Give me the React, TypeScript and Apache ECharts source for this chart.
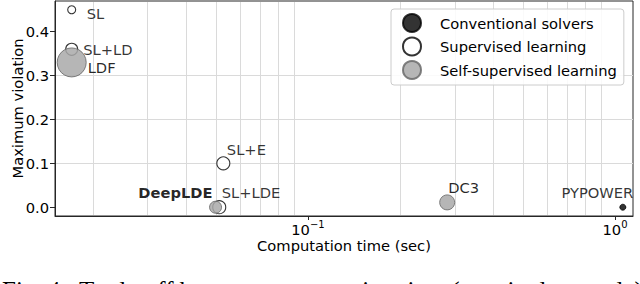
import React, { useEffect, useRef } from 'react';
import * as echarts from 'echarts';

// ---- data ----
const conventionalNames = ['PYPOWER'];
const conventionalTime = [1.06];
const conventionalViolation = [0.0];

const supervisedNames = ['SL', 'SL+LD', 'SL+E', 'SL+LDE'];
const supervisedTime = [0.017, 0.017, 0.053, 0.0514];
const supervisedViolation = [0.45, 0.36, 0.1, 0.0];

const selfNames = ['LDF', 'DeepLDE', 'DC3'];
const selfTime = [0.017, 0.05, 0.284];
const selfViolation = [0.33, 0.0, 0.011];

const yTickValues = [0, 0.1, 0.2, 0.3, 0.4];
const xMajorTickValues = [0.1, 1];
const xMinorGridValues = [
  0.02, 0.03, 0.04, 0.05, 0.06, 0.07, 0.08, 0.09,
  0.2, 0.3, 0.4, 0.5, 0.6, 0.7, 0.8, 0.9,
];

const legendNames = ['Conventional solvers', 'Supervised learning', 'Self-supervised learning'];
const xAxisTitle = 'Computation time (sec)';
const yAxisTitle = 'Maximum violation';
const captionText = 'Fig. 4.\u00a0\u00a0Trade-off between computation time (per single sample)';

// ---- axis ranges & styles ----
const X_MIN = 0.015;
const X_MAX = 1.144;
const Y_MIN = -0.02;
const Y_MAX = 0.47;

const FONT = 'DejaVu Sans';
const FS = 14.7;
const GRID_COLOR = '#dadada';
const SPINE = '#262626';

const markerSize: Record<string, number> = {
  PYPOWER: 6,
  SL: 8,
  'SL+LD': 12,
  'SL+E': 13,
  'SL+LDE': 13,
  LDF: 29,
  DeepLDE: 12,
  DC3: 15,
};

const labelPlacement: Record<string, { dx: number; dy: number; align: string; bold?: boolean }> = {
  PYPOWER: { dx: 10.5, dy: -14.5, align: 'right' },
  SL: { dx: 15, dy: 4, align: 'left' },
  'SL+LD': { dx: 11.5, dy: 0, align: 'left' },
  'SL+E': { dx: 3.5, dy: -14, align: 'left' },
  'SL+LDE': { dx: 2.5, dy: -14.5, align: 'left' },
  LDF: { dx: 16, dy: 5, align: 'left' },
  DeepLDE: { dx: -3, dy: -14.5, align: 'right', bold: true },
  DC3: { dx: 1, dy: -15, align: 'left' },
};

function buildPoints(names: string[], xs: number[], ys: number[]) {
  return names.map((n, i) => {
    const p = labelPlacement[n];
    return {
      name: n,
      value: [xs[i], ys[i]],
      symbolSize: markerSize[n],
      label: {
        show: true,
        position: 'inside',
        align: p.align,
        verticalAlign: 'middle',
        offset: [p.dx, p.dy],
        fontWeight: p.bold ? 'bold' : 'normal',
      },
    };
  });
}

const pointLabel = {
  show: true,
  formatter: '{b}',
  color: '#000',
  fontFamily: FONT,
  fontSize: FS,
  textBorderWidth: 0,
  textBorderColor: 'transparent',
  textShadowBlur: 0,
};

function isDecade(v: number) {
  const l = Math.log10(v);
  return Math.abs(l - Math.round(l)) < 1e-6;
}

export default function App() {
  const ref = useRef<HTMLDivElement>(null);

  useEffect(() => {
    if (!ref.current) return;
    const chart = echarts.init(ref.current, undefined, { renderer: 'svg' });

    const option: any = {
      animation: false,
      textStyle: { fontFamily: FONT },
      grid: {
        left: 55,
        right: 7,
        top: 1,
        bottom: 68,
        containLabel: false,
        outerBoundsMode: 'none',
        show: true,
        borderColor: SPINE,
        borderWidth: 1,
        backgroundColor: 'transparent',
      },
      legend: {
        data: legendNames,
        orient: 'vertical',
        left: 391,
        top: 9,
        padding: [4, 7, 5, 11],
        itemWidth: 18,
        itemHeight: 18,
        itemGap: 3.5,
        icon: 'circle',
        backgroundColor: 'rgba(255,255,255,0.85)',
        borderColor: '#cccccc',
        borderWidth: 1,
        borderRadius: 3,
        z: 10,
        textStyle: {
          fontFamily: FONT,
          fontSize: FS,
          color: '#000',
          padding: [0, 0, 0, 14],
        },
      },
      xAxis: {
        type: 'log',
        logBase: 10,
        min: X_MIN,
        max: X_MAX,
        name: xAxisTitle,
        nameLocation: 'middle',
        nameGap: 22,
        nameMoveOverlap: false,
        nameTextStyle: { fontFamily: FONT, fontSize: FS, color: '#000' },
        axisLine: { show: true, onZero: false, lineStyle: { color: SPINE, width: 1 } },
        axisTick: {
          show: true,
          length: 4,
          lineStyle: { color: SPINE },
          customValues: xMajorTickValues,
        },
        splitLine: {
          show: true,
          showMinLine: false,
          showMaxLine: false,
          lineStyle: { color: GRID_COLOR, width: 1 },
        },
        axisLabel: {
          margin: 3,
          customValues: xMajorTickValues,
          formatter: (v: number) => {
            if (!isDecade(v)) return '';
            const e = Math.round(Math.log10(v));
            const es = e < 0 ? '\u2212' + Math.abs(e) : String(e);
            return '{b|10}{s|' + es + '}';
          },
          rich: {
            b: { fontFamily: FONT, fontSize: FS, color: '#000', lineHeight: 18, verticalAlign: 'bottom' },
            s: { fontFamily: FONT, fontSize: 10, color: '#000', lineHeight: 10, verticalAlign: 'top' },
          },
        },
      },
      yAxis: {
        type: 'value',
        min: Y_MIN,
        max: Y_MAX,
        splitNumber: 5,
        name: yAxisTitle,
        nameLocation: 'middle',
        nameGap: 30,
        nameMoveOverlap: false,
        nameTextStyle: { fontFamily: FONT, fontSize: FS, color: '#000' },
        axisLine: { show: true, onZero: false, lineStyle: { color: SPINE, width: 1 } },
        axisTick: {
          show: true,
          length: 5,
          lineStyle: { color: SPINE },
          customValues: yTickValues,
        },
        splitLine: {
          show: true,
          showMinLine: false,
          showMaxLine: false,
          lineStyle: { color: GRID_COLOR, width: 1 },
        },
        axisLabel: {
          margin: 6,
          customValues: yTickValues,
          fontFamily: FONT,
          fontSize: FS,
          color: '#000',
          formatter: (v: number) => {
            const t = v * 10;
            if (Math.abs(t - Math.round(t)) > 1e-6 || v < -1e-9) return '';
            return v.toFixed(1);
          },
        },
      },
      series: [
        {
          type: 'custom',
          name: 'minor-grid',
          silent: true,
          z: 1,
          data: xMinorGridValues.map((v) => [v, 0]),
          encode: { x: 0, y: 1 },
          renderItem: (_params: any, api: any) => {
            const x = api.value(0);
            const top = api.coord([x, Y_MAX]);
            const bot = api.coord([x, Y_MIN]);
            const px = Math.round(top[0]) + 0.5;
            return {
              type: 'line',
              silent: true,
              shape: { x1: px, y1: top[1] + 1, x2: px, y2: bot[1] - 1 },
              style: { stroke: GRID_COLOR, lineWidth: 1 },
            };
          },
        },
        {
          type: 'scatter',
          name: 'Conventional solvers',
          z: 3,
          data: buildPoints(conventionalNames, conventionalTime, conventionalViolation),
          itemStyle: { color: '#000000', borderColor: '#000', borderWidth: 1 },
          label: pointLabel,
          emphasis: { disabled: true },
        },
        {
          type: 'scatter',
          name: 'Supervised learning',
          z: 3,
          data: buildPoints(supervisedNames, supervisedTime, supervisedViolation),
          itemStyle: { color: '#ffffff', borderColor: '#000', borderWidth: 1.1 },
          label: pointLabel,
          emphasis: { disabled: true },
        },
        {
          type: 'scatter',
          name: 'Self-supervised learning',
          z: 4,
          data: buildPoints(selfNames, selfTime, selfViolation),
          itemStyle: { color: '#a9a9a9', borderColor: '#6a6a6a', borderWidth: 1, opacity: 0.85 },
          label: pointLabel,
          emphasis: { disabled: true },
        },
      ],
      graphic: [
        {
          type: 'text',
          x: 2,
          y: 290,
          silent: true,
          style: {
            text: captionText,
            fontFamily: 'Liberation Serif',
            fontSize: 25,
            fill: '#000',
            align: 'left',
            verticalAlign: 'middle',
          },
        },
      ],
    };

    chart.setOption(option);
    return () => {
      chart.dispose();
    };
  }, []);

  return (
    <div
      ref={ref}
      style={{ position: 'absolute', left: 0, top: 0, width: 640, height: 284 }}
    />
  );
}
